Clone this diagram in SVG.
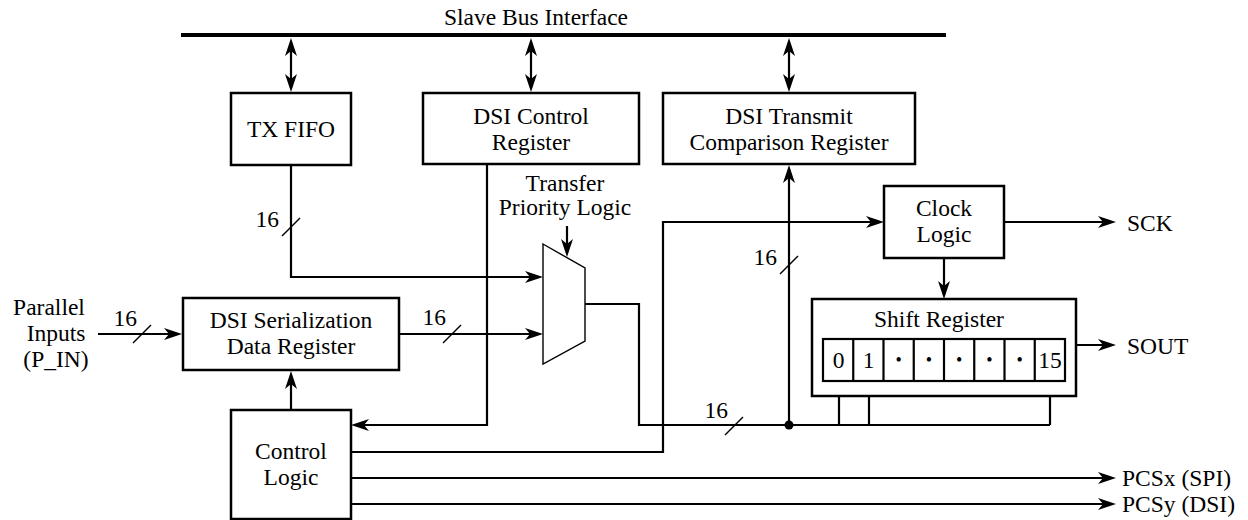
<svg xmlns="http://www.w3.org/2000/svg" width="1248" height="520" viewBox="0 0 1248 520" font-family="'Liberation Serif', 'DejaVu Serif', serif">
<style>
text{font-family:'Liberation Serif','DejaVu Serif',serif;font-size:23.5px;fill:#000}
.c{text-anchor:middle}
.e{text-anchor:end}
.box{fill:#fff;stroke:#000;stroke-width:2.5}
.ln{fill:none;stroke:#000;stroke-width:2.2}
.ar{marker-end:url(#ah)}
.bi{marker-start:url(#ah);marker-end:url(#ah)}
.sl{stroke:#000;stroke-width:1.4}
.dot{font-size:18px}
</style>
<defs>
<marker id="ah" markerUnits="userSpaceOnUse" viewBox="0 0 18 12" refX="14" refY="6" markerWidth="18" markerHeight="12" orient="auto-start-reverse">
<path d="M0,0 L18,6 L0,12 L5,6 Z" fill="#000"/>
</marker>
</defs>

<g id="bus">
<line x1="181" y1="35" x2="946" y2="35" stroke="#000" stroke-width="4"/>
<text x="444" y="25">Slave Bus Interface</text>
</g>

<g id="connectors">
<path class="ln bi" d="M291,42 V88"/>
<path class="ln bi" d="M531,42 V88"/>
<path class="ln bi" d="M789,42 V88"/>
<path class="ln ar" d="M291,165 V277 H539"/>
<path class="ln ar" d="M487,164 V425 H355"/>
<path class="ln ar" d="M567,226 V253"/>
<path class="ln ar" d="M399,334 H539"/>
<path class="ln ar" d="M98,334 H178"/>
<path class="ln ar" d="M291,410 V375"/>
<path class="ln" d="M585,304 H639 V425 H1050"/>
<path class="ln ar" d="M789,425 V169"/>
<path class="ln" d="M839,381 V425 M869,381 V425 M1050,381 V425"/>
<path class="ln ar" d="M351,452 H663 V222 H880"/>
<path class="ln ar" d="M1004,222 H1112"/>
<path class="ln ar" d="M944,258 V295"/>
<path class="ln ar" d="M1076,345 H1112"/>
<path class="ln ar" d="M351,478 H1112"/>
<path class="ln ar" d="M351,504 H1112"/>
<circle cx="789" cy="425" r="4.5" fill="#000"/>
<line class="sl" x1="282" y1="236" x2="300" y2="218"/>
<text class="e" x="279" y="227">16</text>
<line class="sl" x1="133" y1="343" x2="151" y2="325"/>
<text class="e" x="137" y="326">16</text>
<line class="sl" x1="443" y1="343" x2="461" y2="325"/>
<text class="e" x="446" y="325">16</text>
<line class="sl" x1="780" y1="274" x2="798" y2="256"/>
<text class="e" x="777" y="265">16</text>
<line class="sl" x1="725" y1="435" x2="743" y2="417"/>
<text class="e" x="728" y="418">16</text>
</g>

<g id="txfifo">
<rect class="box" x="231" y="93" width="120" height="72"/>
<text class="c" x="291" y="137">TX FIFO</text>
</g>

<g id="dsi-control">
<rect class="box" x="423" y="93" width="216" height="71"/>
<text class="c" x="531" y="124">DSI Control</text>
<text class="c" x="531" y="150">Register</text>
</g>

<g id="dsi-transmit">
<rect class="box" x="663" y="93" width="252" height="71"/>
<text class="c" x="789" y="124">DSI Transmit</text>
<text class="c" x="789" y="150">Comparison Register</text>
</g>

<g id="mux">
<text class="c" x="565" y="191">Transfer</text>
<text class="c" x="565" y="215">Priority Logic</text>
<polygon points="543,244 585,268 585,341 543,364" fill="#fff" stroke="#000" stroke-width="1.4"/>
</g>

<g id="parallel-inputs">
<text class="c" x="49" y="315">Parallel</text>
<text class="c" x="56" y="341">Inputs</text>
<text class="c" x="56" y="367">(P_IN)</text>
</g>

<g id="dsi-serialization">
<rect class="box" x="183" y="298" width="216" height="72"/>
<text class="c" x="291" y="328">DSI Serialization</text>
<text class="c" x="291" y="354">Data Register</text>
</g>

<g id="control-logic">
<rect class="box" x="231" y="410" width="120" height="109"/>
<text class="c" x="291" y="459">Control</text>
<text class="c" x="291" y="485">Logic</text>
</g>

<g id="clock-logic">
<rect class="box" x="884" y="186" width="120" height="72"/>
<text class="c" x="944" y="216">Clock</text>
<text class="c" x="944" y="242">Logic</text>
</g>

<g id="shift-register">
<rect class="box" x="812" y="299" width="264" height="97"/>
<text class="c" x="939" y="327">Shift Register</text>
<rect x="823" y="339" width="242" height="42" fill="#fff" stroke="#000" stroke-width="2.2"/>
<path class="ln" d="M853.25,339 V381 M883.5,339 V381 M913.75,339 V381 M944,339 V381 M974.25,339 V381 M1004.5,339 V381 M1034.75,339 V381"/>
<text class="c" x="838.6" y="368">0</text>
<text class="c" x="868.6" y="368">1</text>
<text class="c dot" x="898.6" y="366">•</text>
<text class="c dot" x="928.9" y="366">•</text>
<text class="c dot" x="959.1" y="366">•</text>
<text class="c dot" x="989.4" y="366">•</text>
<text class="c dot" x="1019.6" y="366">•</text>
<text class="c" x="1050" y="368">15</text>
</g>

<g id="outputs">
<text x="1127" y="231">SCK</text>
<text x="1127" y="354">SOUT</text>
<text x="1122" y="486">PCSx (SPI)</text>
<text x="1122" y="512">PCSy (DSI)</text>
</g>
</svg>
